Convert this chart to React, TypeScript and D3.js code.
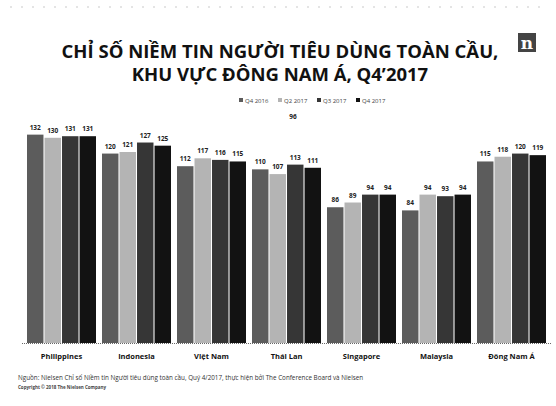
import * as d3 from "d3";
import React, { useEffect, useRef } from "react";

const countries = ["Philippines", "Indonesia", "Việt Nam", "Thái Lan", "Singapore", "Malaysia", "Đông Nam Á"];
const seriesNames = ["Q4 2016", "Q2 2017", "Q3 2017", "Q4 2017"];
const q42016 = [132, 120, 112, 110, 86, 84, 115];
const q22017 = [130, 121, 117, 107, 89, 94, 118];
const q32017 = [131, 127, 116, 113, 94, 93, 120];
const q42017 = [131, 125, 115, 111, 94, 94, 119];
const colors = ["#5c5c5c", "#b4b4b4", "#363636", "#121212"];

export default function App() {
  const svgRef = useRef(null);
  const width = 556;
  const height = 406;
  const baseY = 343;

  useEffect(() => {
    const svg = d3.select(svgRef.current);
    svg.selectAll("*").remove();

    const series = [q42016, q22017, q32017, q42017];

    const x0 = d3.scaleBand().domain(countries).range([24, 549]).paddingInner(0.08).paddingOuter(0.04);
    const x1 = d3.scaleBand().domain(seriesNames).range([0, x0.bandwidth()]).paddingInner(0.06);
    const y = d3.scaleLinear().domain([0, 140]).range([baseY, 122]);

    // faint scan line at top
    svg.append("line")
      .attr("x1", 10).attr("x2", 546).attr("y1", 7).attr("y2", 7)
      .attr("stroke", "#bbb").attr("stroke-width", 0.8).attr("stroke-dasharray", "2,9");

    // logo
    svg.append("rect").attr("x", 518).attr("y", 33).attr("width", 18).attr("height", 19).attr("fill", "#444");
    svg.append("text").attr("x", 527).attr("y", 49).attr("text-anchor", "middle")
      .attr("font-family", "DejaVu Serif").attr("font-weight", "bold").attr("font-size", 17).attr("fill", "#fff").text("n");

    // title
    const title = svg.append("text").attr("text-anchor", "middle").attr("font-family", "Open Sans")
      .attr("font-weight", "bold").attr("font-size", 18.5).attr("fill", "#111");
    title.append("tspan").attr("x", 280).attr("y", 58).text("CHỈ SỐ NIỀM TIN NGƯỜI TIÊU DÙNG TOÀN CẦU,");
    title.append("tspan").attr("x", 280).attr("y", 81).text("KHU VỰC ĐÔNG NAM Á, Q4’2017");

    // legend
    const legend = svg.append("g").attr("font-family", "Open Sans").attr("font-size", 6).attr("fill", "#444");
    seriesNames.forEach((s, i) => {
      const lx = 239 + i * 39;
      legend.append("rect").attr("x", lx).attr("y", 98).attr("width", 4).attr("height", 4).attr("fill", colors[i]);
      legend.append("text").attr("x", lx + 6).attr("y", 102.5).text(s);
    });

    // bars
    const groups = svg.append("g").selectAll("g").data(countries).enter().append("g")
      .attr("transform", (d) => "translate(" + x0(d) + ",0)");

    groups.selectAll("rect")
      .data((d, ci) => series.map((vals, si) => ({ key: seriesNames[si], value: vals[ci], si })))
      .enter().append("rect")
      .attr("x", (d) => x1(d.key))
      .attr("y", (d) => y(d.value))
      .attr("width", x1.bandwidth())
      .attr("height", (d) => baseY - y(d.value))
      .attr("fill", (d) => colors[d.si]);

    groups.selectAll("text")
      .data((d, ci) => series.map((vals, si) => ({ key: seriesNames[si], value: vals[ci], si })))
      .enter().append("text")
      .attr("x", (d) => x1(d.key) + x1.bandwidth() / 2)
      .attr("y", (d) => y(d.value) - 5)
      .attr("text-anchor", "middle")
      .attr("font-family", "Open Sans").attr("font-size", 6.5).attr("font-weight", "bold").attr("fill", "#222")
      .text((d) => d.value);

    // stray label above Thai Lan
    svg.append("text").attr("x", 293).attr("y", 119).attr("text-anchor", "middle")
      .attr("font-family", "Open Sans").attr("font-size", 6.5).attr("font-weight", "bold").attr("fill", "#222").text("96");

    // baseline + category axis
    svg.append("line").attr("x1", 22).attr("x2", 551).attr("y1", baseY + 0.5).attr("y2", baseY + 0.5)
      .attr("stroke", "#666").attr("stroke-width", 1).attr("stroke-dasharray", "1,1");

    const xAxis = svg.append("g").attr("transform", "translate(0," + baseY + ")")
      .call(d3.axisBottom(x0).tickSize(0).tickPadding(11));
    xAxis.select(".domain").remove();
    xAxis.selectAll("text").attr("font-family", "Open Sans").attr("font-size", 7.5)
      .attr("font-weight", "bold").attr("fill", "#111");

    // footer
    svg.append("text").attr("x", 18).attr("y", 380).attr("font-family", "Open Sans").attr("font-size", 6.3)
      .attr("fill", "#333")
      .text("Nguồn: Nielsen Chỉ số Niềm tin Người tiêu dùng toàn cầu, Quý 4/2017, thực hiện bởi The Conference Board và Nielsen");
    svg.append("text").attr("x", 18).attr("y", 389).attr("font-family", "Open Sans").attr("font-size", 4.5)
      .attr("font-weight", "bold").attr("fill", "#444")
      .text("Copyright © 2018 The Nielsen Company");
  });

  return (
    <svg ref={svgRef} width={width} height={height}
      style={{ position: "absolute", left: 0, top: 0, background: "#fff" }}></svg>
  );
}
